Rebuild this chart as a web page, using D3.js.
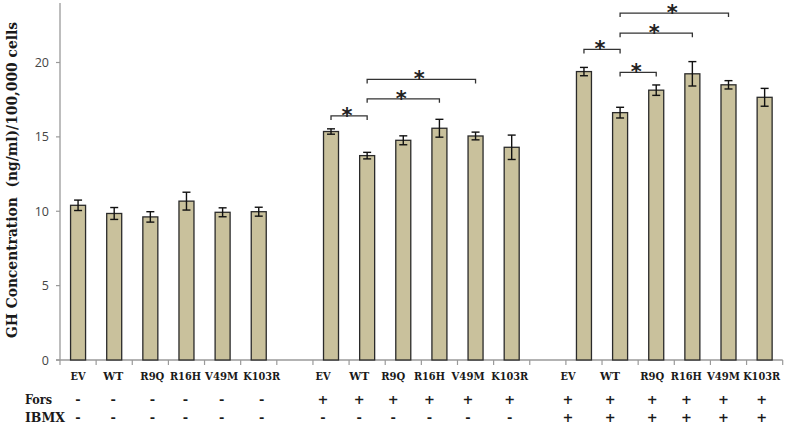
<!DOCTYPE html>
<html><head><meta charset="utf-8">
<script src="https://cdn.jsdelivr.net/npm/d3@7"></script>
<style>body{margin:0;background:#fff}svg{display:block}</style>
</head><body>
<svg id="chart" width="787" height="425"></svg>
<script>
const categories = ["EV","WT","R9Q","R16H","V49M","K103R"];
const means1 = [10.4, 9.85, 9.62, 10.68, 9.93, 9.97];
const errs1  = [0.35, 0.4, 0.35, 0.6, 0.3, 0.3];
const means2 = [15.36, 13.74, 14.77, 15.58, 15.06, 14.3];
const errs2  = [0.18, 0.22, 0.3, 0.6, 0.26, 0.82];
const means3 = [19.39, 16.63, 18.14, 19.24, 18.5, 17.66];
const errs3  = [0.28, 0.36, 0.35, 0.82, 0.28, 0.6];
const forsLabels = ["-","+","+"];
const ibmxLabels = ["-","-","+"];
const yTicks = [0,5,10,15,20];
// significance brackets: group index, from category, to category, bracket level (data units)
const brackets = [
  {g:1, a:0, b:1, level:16.41},
  {g:1, a:1, b:3, level:17.56},
  {g:1, a:1, b:4, level:18.86},
  {g:2, a:0, b:1, level:20.88},
  {g:2, a:1, b:2, level:19.33},
  {g:2, a:1, b:3, level:21.97},
  {g:2, a:1, b:4, level:23.32}
];

// layout only: hand-placed label offsets (px) per group/category, and label widths
const labelShift = [[0,-1,2,-1,-1,3],[-8,-8,-10,-10,-7.5,-2],[-16,-10,-4,-6,-5,-3]];
const labelWidth = {EV:15, WT:20, R9Q:24, R16H:31, V49M:33, K103R:37};

const svg = d3.select("#chart");
const groupsMeans = [means1, means2, means3];
const groupsErrs = [errs1, errs2, errs3];
const nSlots = 20;
const x = d3.scaleBand().domain(d3.range(nSlots)).range([60, 782.7]).paddingInner(0).paddingOuter(0);
const y = d3.scaleLinear().domain([0, 24]).range([360, 3]);
const barW = 15;

const data = [];
groupsMeans.forEach((m, g) => m.forEach((v, i) => data.push({g, i, slot: g*7+i, v, e: groupsErrs[g][i], cat: categories[i]})));
const cx = d => x(d.slot) + x.bandwidth()/2;
const lx = d => cx(d) + labelShift[d.g][d.i];

// axes
const axisColor = "#9a9a9a";
svg.append("line").attr("x1", 60).attr("x2", 60).attr("y1", y(24)).attr("y2", y(0)).attr("stroke", axisColor).attr("stroke-width", 1.3);
svg.append("line").attr("x1", 56).attr("x2", x.range()[1]).attr("y1", y(0)).attr("y2", y(0)).attr("stroke", axisColor).attr("stroke-width", 1.3);
d3.range(nSlots + 1).forEach(k => {
  const xx = 60 + k * x.bandwidth();
  svg.append("line").attr("x1", xx).attr("x2", xx).attr("y1", y(0)).attr("y2", y(0) + 5).attr("stroke", axisColor).attr("stroke-width", 1.2);
});
yTicks.forEach(t => {
  svg.append("line").attr("x1", 56).attr("x2", 60).attr("y1", y(t)).attr("y2", y(t)).attr("stroke", axisColor).attr("stroke-width", 1.2);
  svg.append("text").attr("x", 49).attr("y", y(t)).attr("dy", "0.36em").attr("text-anchor", "end")
    .attr("font-family", "'Open Sans', sans-serif").attr("font-size", 12.5).attr("fill", "#444").text(t);
});

// bars
svg.append("g").selectAll("rect").data(data).join("rect")
  .attr("x", d => cx(d) - barW/2).attr("width", barW)
  .attr("y", d => y(d.v)).attr("height", d => y(0) - y(d.v))
  .attr("fill", "#c9c19c").attr("stroke", "#2a2a2a").attr("stroke-width", 1.3);

// error bars
const eg = svg.append("g").attr("stroke", "#111").attr("stroke-width", 1.4);
data.forEach(d => {
  const xc = cx(d);
  eg.append("line").attr("x1", xc).attr("x2", xc).attr("y1", y(d.v + d.e)).attr("y2", y(d.v - d.e));
  eg.append("line").attr("x1", xc - 4).attr("x2", xc + 4).attr("y1", y(d.v + d.e)).attr("y2", y(d.v + d.e));
  eg.append("line").attr("x1", xc - 4).attr("x2", xc + 4).attr("y1", y(d.v - d.e)).attr("y2", y(d.v - d.e));
});

// brackets
const bg = svg.append("g");
brackets.forEach(b => {
  const xa = x(b.g*7 + b.a) + x.bandwidth()/2;
  const xb = x(b.g*7 + b.b) + x.bandwidth()/2;
  const yy = y(b.level);
  bg.append("path").attr("d", `M${xa},${yy+4}V${yy}H${xb}V${yy+4}`)
    .attr("fill", "none").attr("stroke", "#333").attr("stroke-width", 1.3);
  bg.append("text").attr("x", (xa + xb)/2 - 2).attr("y", yy + 7).attr("text-anchor", "middle")
    .attr("font-family", "'DejaVu Sans', sans-serif").attr("font-weight", "bold").attr("font-size", 21).attr("fill", "#222").text("*");
});

// category labels and treatment rows
const serif = "'DejaVu Serif', serif";
svg.append("g").selectAll("text").data(data).join("text")
  .attr("x", d => lx(d)).attr("y", 380).attr("text-anchor", "middle")
  .attr("font-family", serif).attr("font-weight", "bold").attr("font-size", 11.5)
  .attr("textLength", d => labelWidth[d.cat]).attr("lengthAdjust", "spacingAndGlyphs")
  .attr("fill", "#1a1a1a").text(d => d.cat);
svg.append("g").selectAll("text").data(data).join("text")
  .attr("x", d => lx(d)).attr("y", 404).attr("text-anchor", "middle")
  .attr("font-family", serif).attr("font-weight", "bold").attr("font-size", 13)
  .attr("fill", "#1a1a1a").text(d => forsLabels[d.g]);
svg.append("g").selectAll("text").data(data).join("text")
  .attr("x", d => lx(d)).attr("y", 422).attr("text-anchor", "middle")
  .attr("font-family", serif).attr("font-weight", "bold").attr("font-size", 13)
  .attr("fill", "#1a1a1a").text(d => ibmxLabels[d.g]);
svg.append("text").attr("x", 25).attr("y", 404).attr("font-family", serif).attr("font-weight", "bold").attr("font-size", 13)
  .attr("textLength", 27).attr("lengthAdjust", "spacingAndGlyphs").attr("fill", "#1a1a1a").text("Fors");
svg.append("text").attr("x", 25).attr("y", 422).attr("font-family", serif).attr("font-weight", "bold").attr("font-size", 13)
  .attr("textLength", 40).attr("lengthAdjust", "spacingAndGlyphs").attr("fill", "#1a1a1a").text("IBMX");

// y axis title
svg.append("text").attr("transform", "translate(17,180) rotate(-90)").attr("text-anchor", "middle")
  .attr("font-family", serif).attr("font-weight", "bold").attr("font-size", 14.5)
  .attr("textLength", 316).attr("lengthAdjust", "spacingAndGlyphs")
  .attr("fill", "#1a1a1a").attr("xml:space", "preserve").text("GH Concentration  (ng/ml)/100,000 cells");
</script>
</body></html>
